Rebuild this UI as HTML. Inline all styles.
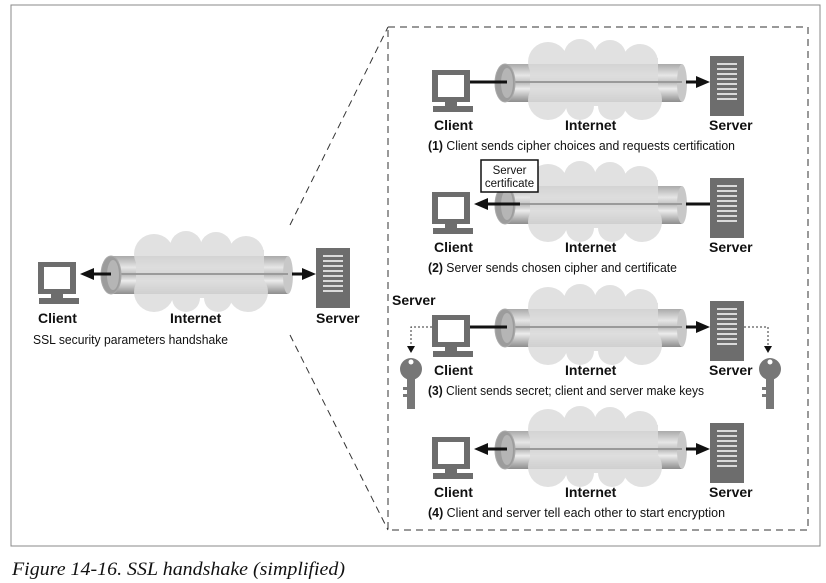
<!DOCTYPE html>
<html><head><meta charset="utf-8"><style>
html,body{margin:0;padding:0;background:#fff;}
svg{display:block;}
.b{font-family:"Liberation Sans",sans-serif;font-weight:bold;font-size:14px;fill:#111;}
.c{font-family:"Liberation Sans",sans-serif;font-size:13px;fill:#111;}
</style></head><body>
<svg width="826" height="583" viewBox="0 0 826 583" xmlns="http://www.w3.org/2000/svg">
<defs>
<linearGradient id="pg" x1="0" y1="0" x2="0" y2="1">
<stop offset="0" stop-color="#aaa"/><stop offset="0.3" stop-color="#e6e6e6"/><stop offset="0.5" stop-color="#bdbdbd"/><stop offset="0.65" stop-color="#ececec"/><stop offset="1" stop-color="#8d8d8d"/>
</linearGradient>
<g id="client">
<rect x="0" y="0" width="38" height="32" fill="#6d6d6d"/>
<rect x="6" y="5" width="26" height="22" fill="#fff"/>
<rect x="13" y="32" width="12" height="5" fill="#6d6d6d"/>
<rect x="1" y="36" width="40" height="6" fill="#6d6d6d"/>
</g>
<g id="server">
<rect x="0" y="0" width="34" height="60" fill="#6d6d6d"/>
<g stroke="#fff" stroke-width="1.6">
<line x1="7" y1="8" x2="27" y2="8"/><line x1="7" y1="13" x2="27" y2="13"/><line x1="7" y1="18" x2="27" y2="18"/><line x1="7" y1="23" x2="27" y2="23"/><line x1="7" y1="28" x2="27" y2="28"/><line x1="7" y1="33" x2="27" y2="33"/><line x1="7" y1="38" x2="27" y2="38"/><line x1="7" y1="43" x2="27" y2="43"/>
</g>
</g>
<g id="pipe">
<rect x="505" y="64" width="177" height="38" fill="url(#pg)"/>
<ellipse cx="682" cy="83" rx="5" ry="19" fill="#c8c8c8"/>
<g fill="#dcdcdc" opacity="0.85">
<circle cx="548" cy="62" r="20"/><circle cx="580" cy="55" r="16"/><circle cx="610" cy="56" r="16"/><circle cx="640" cy="62" r="18"/>
<circle cx="548" cy="100" r="20"/><circle cx="580" cy="106" r="14"/><circle cx="612" cy="106" r="14"/><circle cx="642" cy="100" r="20"/>
<rect x="530" y="58" width="128" height="48"/>
</g>
<line x1="505" y1="82" x2="682" y2="82" stroke="#9a9a9a" stroke-width="2"/>
<ellipse cx="505" cy="83" rx="10" ry="19" fill="#9c9c9c" stroke="#aaa"/>
<ellipse cx="507" cy="83" rx="6" ry="15" fill="#b5b5b5"/>
</g>
<g id="key">
<circle cx="0" cy="14" r="11" fill="#777"/>
<circle cx="0" cy="7" r="2.5" fill="#fff"/>
<rect x="-4" y="22" width="8" height="32" fill="#777"/>
<rect x="-8" y="32" width="5" height="3" fill="#777"/><rect x="-8" y="39" width="5" height="3" fill="#777"/>
</g>
</defs>

<rect x="11" y="5" width="809" height="541" fill="none" stroke="#888" stroke-width="1"/>
<rect x="388" y="27" width="420" height="503" fill="none" stroke="#333" stroke-width="1" stroke-dasharray="7,5"/>
<line x1="290" y1="225" x2="388" y2="27" stroke="#333" stroke-dasharray="7,5"/>
<line x1="290" y1="335" x2="388" y2="530" stroke="#333" stroke-dasharray="7,5"/>

<g transform="translate(-394,192)">
<use href="#client" x="432" y="70"/>
<use href="#pipe"/>
<use href="#server" x="710" y="56"/>
<line x1="485" y1="82" x2="505" y2="82" stroke="#111" stroke-width="3"/>
<polygon points="474,82 488,76 488,88" fill="#111"/>
<line x1="686" y1="82" x2="700" y2="82" stroke="#111" stroke-width="3"/>
<polygon points="710,82 696,76 696,88" fill="#111"/>
</g>
<text class="b" x="38" y="323">Client</text>
<text class="b" x="170" y="323">Internet</text>
<text class="b" x="316" y="323">Server</text>
<text class="c" x="33" y="344" textLength="195" lengthAdjust="spacingAndGlyphs">SSL security parameters handshake</text>

<g>
<use href="#client" x="432" y="70"/>
<use href="#pipe"/>
<use href="#server" x="710" y="56"/>
<line x1="470" y1="82" x2="507" y2="82" stroke="#111" stroke-width="3"/>
<line x1="686" y1="82" x2="700" y2="82" stroke="#111" stroke-width="3"/>
<polygon points="710,82 696,76 696,88" fill="#111"/>
<text class="b" x="434" y="130">Client</text>
<text class="b" x="565" y="130">Internet</text>
<text class="b" x="709" y="130">Server</text>
<text class="c" x="428" y="150" textLength="307" lengthAdjust="spacingAndGlyphs"><tspan font-weight="bold">(1)</tspan> Client sends cipher choices and requests certification</text>
</g>

<g transform="translate(0,122)">
<use href="#client" x="432" y="70"/>
<use href="#pipe"/>
<use href="#server" x="710" y="56"/>
<line x1="485" y1="82" x2="520" y2="82" stroke="#111" stroke-width="3"/>
<polygon points="474,82 488,76 488,88" fill="#111"/>
<line x1="686" y1="82" x2="710" y2="82" stroke="#111" stroke-width="3"/>
<rect x="481" y="38" width="57" height="32" fill="#fff" stroke="#111" stroke-width="1.5"/>
<text x="509.5" y="52" style="font-family:'Liberation Sans',sans-serif;font-size:11.5px" text-anchor="middle" fill="#111">Server</text>
<text x="509.5" y="65" style="font-family:'Liberation Sans',sans-serif;font-size:11.5px" text-anchor="middle" fill="#111">certificate</text>
<text class="b" x="434" y="130">Client</text>
<text class="b" x="565" y="130">Internet</text>
<text class="b" x="709" y="130">Server</text>
<text class="c" x="428" y="150" textLength="249" lengthAdjust="spacingAndGlyphs"><tspan font-weight="bold">(2)</tspan> Server sends chosen cipher and certificate</text>
</g>

<g transform="translate(0,245)">
<use href="#client" x="432" y="70"/>
<use href="#pipe"/>
<use href="#server" x="710" y="56"/>
<line x1="470" y1="82" x2="507" y2="82" stroke="#111" stroke-width="3"/>
<line x1="686" y1="82" x2="700" y2="82" stroke="#111" stroke-width="3"/>
<polygon points="710,82 696,76 696,88" fill="#111"/>
<polyline points="432,82 411,82 411,103" fill="none" stroke="#333" stroke-dasharray="2,2"/>
<polygon points="411,108 407,101 415,101" fill="#111"/>
<polyline points="744,82 768,82 768,103" fill="none" stroke="#333" stroke-dasharray="2,2"/>
<polygon points="768,108 764,101 772,101" fill="#111"/>
<use href="#key" x="411" y="110"/>
<use href="#key" x="770" y="110"/>
<text class="b" x="392" y="60">Server</text>
<text class="b" x="434" y="130">Client</text>
<text class="b" x="565" y="130">Internet</text>
<text class="b" x="709" y="130">Server</text>
<text class="c" x="428" y="150" textLength="276" lengthAdjust="spacingAndGlyphs"><tspan font-weight="bold">(3)</tspan> Client sends secret; client and server make keys</text>
</g>

<g transform="translate(0,367)">
<use href="#client" x="432" y="70"/>
<use href="#pipe"/>
<use href="#server" x="710" y="56"/>
<line x1="485" y1="82" x2="507" y2="82" stroke="#111" stroke-width="3"/>
<polygon points="474,82 488,76 488,88" fill="#111"/>
<line x1="686" y1="82" x2="700" y2="82" stroke="#111" stroke-width="3"/>
<polygon points="710,82 696,76 696,88" fill="#111"/>
<text class="b" x="434" y="130">Client</text>
<text class="b" x="565" y="130">Internet</text>
<text class="b" x="709" y="130">Server</text>
<text class="c" x="428" y="150" textLength="297" lengthAdjust="spacingAndGlyphs"><tspan font-weight="bold">(4)</tspan> Client and server tell each other to start encryption</text>
</g>

<text x="12" y="575" style="font-family:'Liberation Serif',serif;font-style:italic;font-size:19px" fill="#111" textLength="333" lengthAdjust="spacingAndGlyphs">Figure 14-16. SSL handshake (simplified)</text>
</svg>
</body></html>
